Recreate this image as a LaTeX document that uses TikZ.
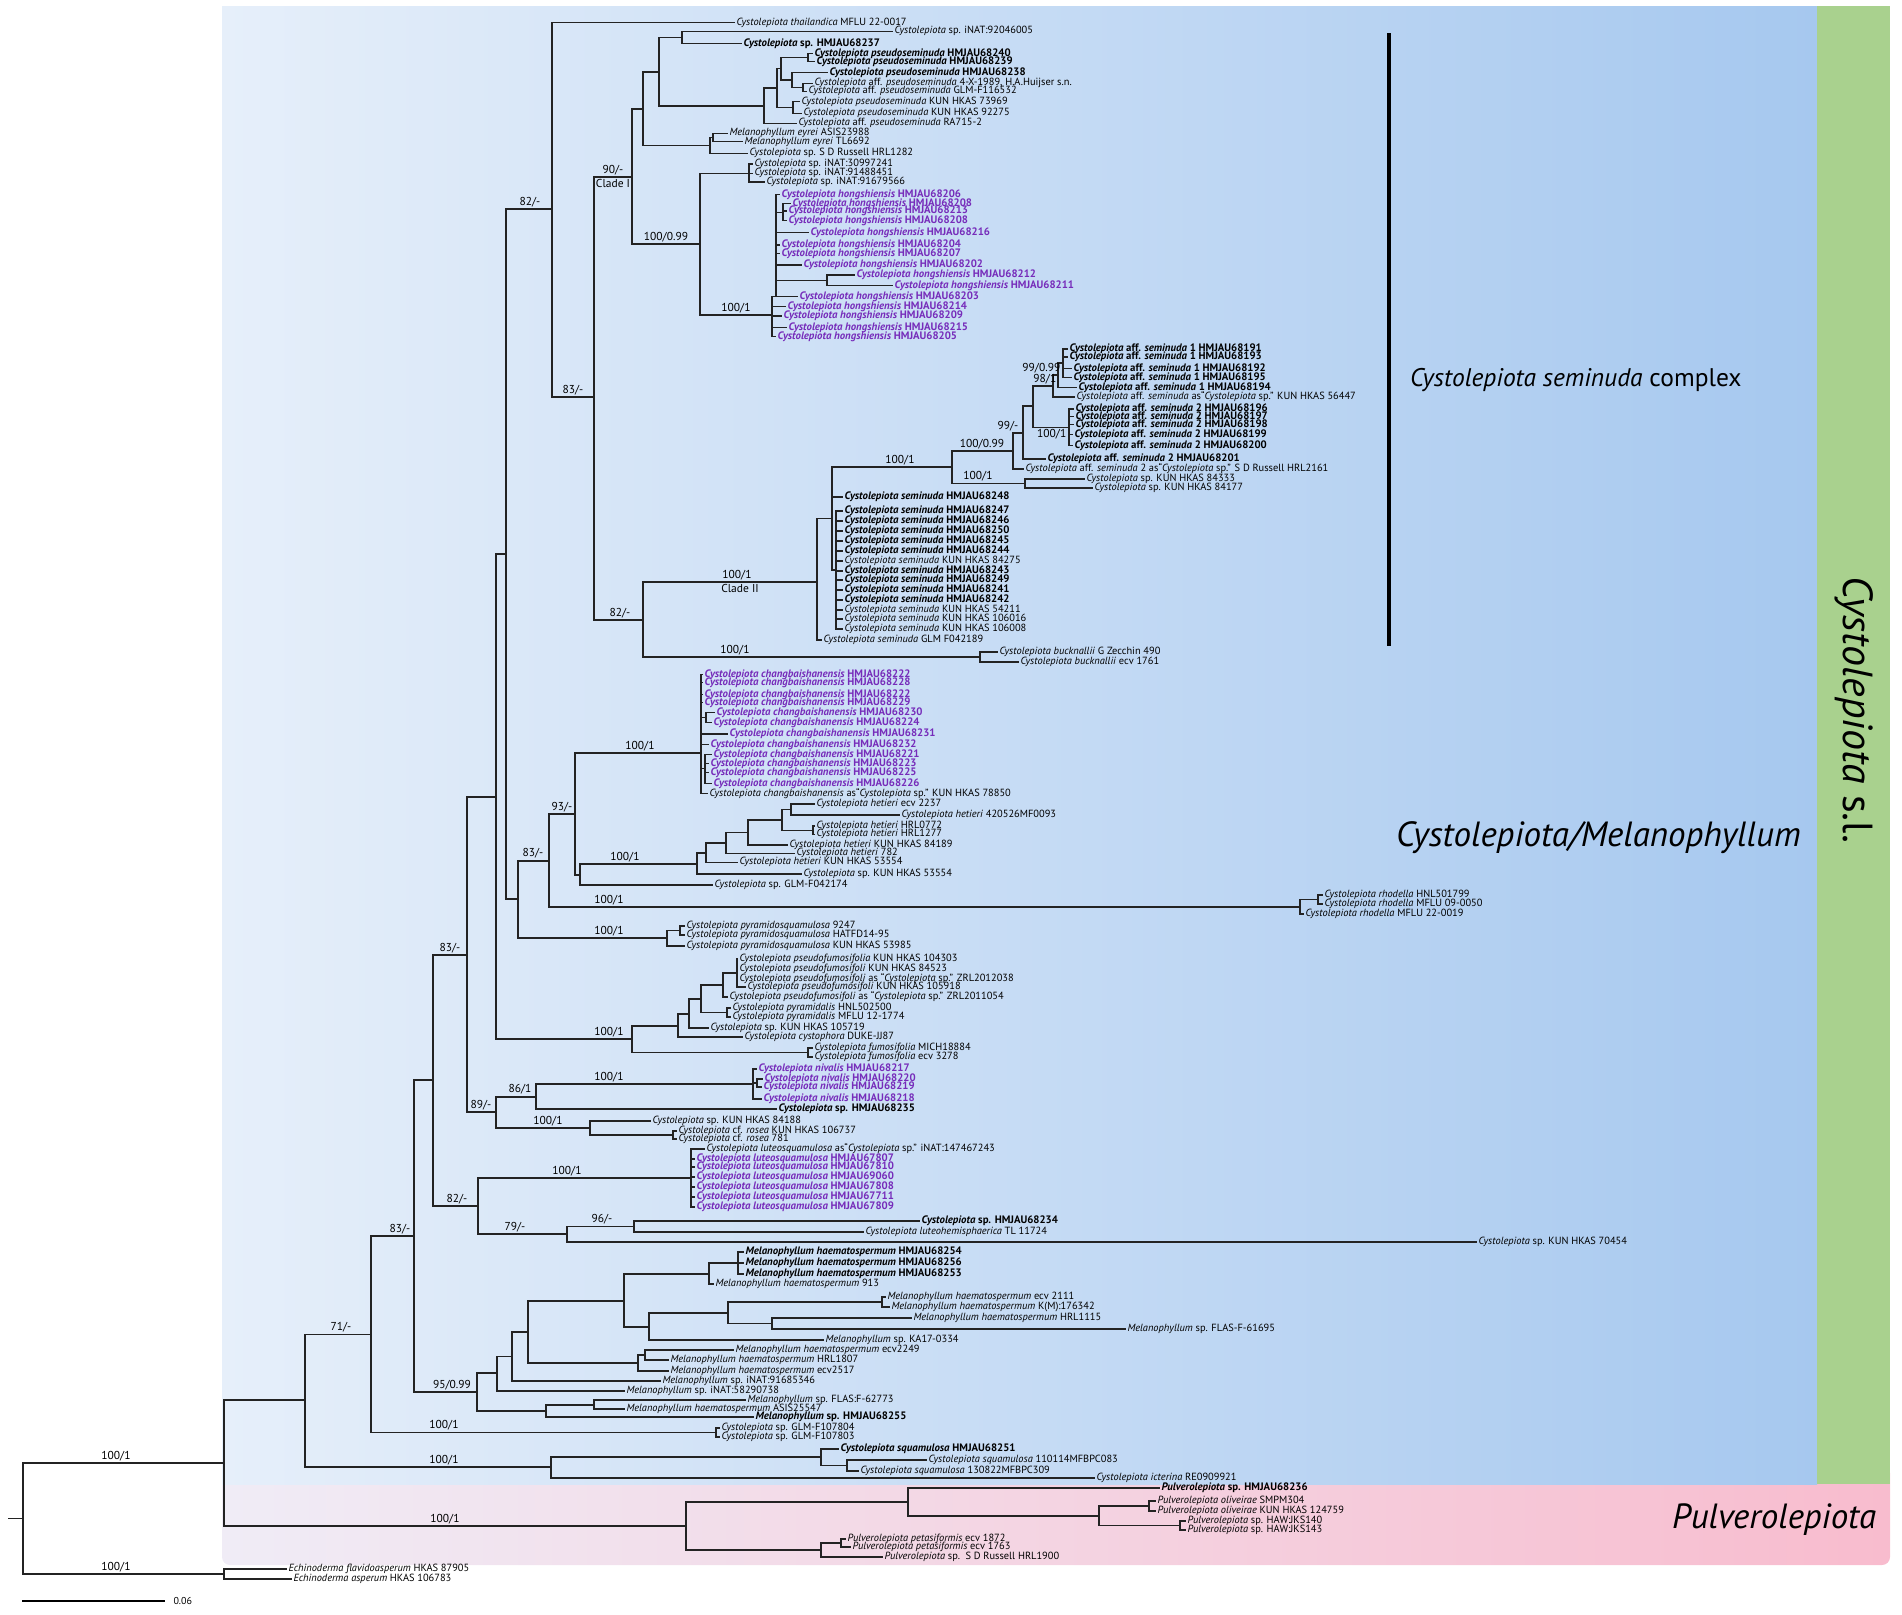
\documentclass[tikz,border=0pt]{standalone}
\usepackage{fontspec}
\setmainfont{PT Sans}
\usepackage{tikz}

\definecolor{hmpurple}{RGB}{118,44,186}
\definecolor{treeline}{RGB}{35,35,35}
\definecolor{boxlight}{RGB}{230,239,250}
\definecolor{boxdark}{RGB}{166,200,239}
\definecolor{slgreen}{RGB}{169,209,142}
\definecolor{pulvlight}{RGB}{240,236,246}
\definecolor{pulvdark}{RGB}{248,188,206}

\newcommand{\Cys}[1]{\textit{Cystolepiota #1}}
\newcommand{\Mel}[1]{\textit{Melanophyllum #1}}
\newcommand{\Pul}[1]{\textit{Pulverolepiota #1}}
\newcommand{\CS}{\textit{Cystolepiota}}
\newcommand{\MS}{\textit{Melanophyllum}}
\newcommand{\PS}{\textit{Pulverolepiota}}

\tikzset{
  leaf/.style={anchor=west, inner sep=0pt, outer sep=1.5pt, font=\fontsize{10.4}{10}\selectfont},
  bleaf/.style={leaf, font=\fontsize{10.8}{10}\selectfont\bfseries},
  pleaf/.style={bleaf, text=hmpurple},
  br/.style={draw=treeline, line width=1.1pt},
  bs/.style={anchor=south, inner sep=0.5pt, font=\fontsize{11.5}{11}\selectfont},
  bigtag/.style={anchor=west, inner sep=0pt}
}

\begin{document}
\begin{tikzpicture}[x=1pt, y=-1pt]
\useasboundingbox (0,0) rectangle (1902,1614);

% background boxes
\shade[left color=pulvlight, right color=pulvdark, rounded corners=8pt] (222,1465) rectangle (1890,1565);
\shade[left color=boxlight, right color=boxdark] (222,6) rectangle (1817,1484);
\fill[slgreen] (1817,6) rectangle (1890,1484);
\draw[line width=4pt] (1389,33) -- (1389,646);

% internal nodes
\foreach \n/\x/\y in {
 nT/552/209, n83/594/397, cl1/632/177, n643/643/109, n659/659/72, n682/682/37.3,
 n764/764/106, n777/777/88, n781/781/68.7, n808/808/57.5, n792/792/80, n803/803/87.3,
 n793/793/107.5, n710/710/145.5, n713/713/137.5, n700/700/244, n749/749/173.3,
 n772/772/315, n776/776/296.7, n783/783/212.2, n827/827/280.4,
 n82/643/620, nc2/817/582, ns10/832/518.5, nsemi/836/570, ns9/952/467, ns7/1013/451,
 ns6/1023/433, ns5/1033/406, ns3/1053/386, ns2/1058/375, ns1/1063/363, ns4/1069/427.3,
 ns8/1025/483.5, nbu/980/657,
 X/506/554, Y/518/899, n83b/549/861, n93/575/814, nchb/701/753, ncb1/706/717.5, ncb2/705/768.5,
 nhet0/580/875, nhg/697/864, nhe1/706/853, n726/726/843, n748/748/832.5, n782/782/820,
 n791/791/809.5, n813/813/830.2, nrh/1300/907, nrh1/1318/899.5, npy/667/938, npy1/680/930.5,
 Z/496/797, npf/632/1039, n678/678/1026, n689/689/1014, n701/701/999, n723/723/985,
 n737/737/973, n727/727/1012.5, nfu/808/1052.5,
 W/467/955, n89/496/1112, n86/536/1097, nni/753/1084, nni2/757/1083, nro/590/1128, nro2/673/1135,
 V/433/1080, n82b/478/1206, nlu/691/1178, n79/567/1234, n96/634/1226.5,
 N3/414/1236, n95/477/1392, Mj/497/1373, Mi/512/1356.5, Mmid/528/1332, Mtop/624/1301,
 Mh1/709/1274, n738/738/1263, Mka/649/1327, Mkl/728/1313, Mk/882/1302, Ml/772/1323.5,
 Me2/638/1363, Me/645/1355, Mg/546/1411, Mf/594/1405,
 N2/371/1334.5, nglm/716/1432.5, N1/305/1400, nsq0/551/1467, nsq/821/1457, nsqb/847/1465.5,
 nI/224/1463, npu/686/1526, npuU/908/1502, nolv/1099/1516, nolv1/1149/1506, njks/1180/1525.5,
 npuL/821/1550, npe/841/1543, nE/224/1574, nR/23/1518.5, stub/8/1518.5}
  \coordinate (\n) at (\x,\y);

% Clade I leaves
\node[leaf] (thai) at (735,22.7) {\Cys{thailandica} MFLU 22-0017};
\node[leaf] (in92) at (893,31.3) {\CS\ sp. iNAT:92046005};
\node[bleaf] (h237) at (742,43.3) {\CS\ sp. HMJAU68237};
\node[bleaf] (ps240) at (813,53.3) {\Cys{pseudoseminuda} HMJAU68240};
\node[bleaf] (ps239) at (815,61.7) {\Cys{pseudoseminuda} HMJAU68239};
\node[bleaf] (ps238) at (828,72.7) {\Cys{pseudoseminuda} HMJAU68238};
\node[leaf] (psx) at (813,83.3) {\CS\ aff. \textit{pseudoseminuda} 4-X-1989, H.A.Huijser s.n.};
\node[leaf] (psglm) at (807,91.3) {\CS\ aff. \textit{pseudoseminuda} GLM-F116532};
\node[leaf] (ps739) at (800,101.7) {\Cys{pseudoseminuda} KUN HKAS 73969};
\node[leaf] (ps922) at (802,113.3) {\Cys{pseudoseminuda} KUN HKAS 92275};
\node[leaf] (psra) at (797,123.3) {\CS\ aff. \textit{pseudoseminuda} RA715-2};
\node[leaf] (eyA) at (728,133.3) {\Mel{eyrei} ASIS23988};
\node[leaf] (eyT) at (743,141.7) {\Mel{eyrei} TL6692};
\node[leaf] (ru282) at (748,153.3) {\CS\ sp. S D Russell HRL1282};
\node[leaf] (in30) at (753,164) {\CS\ sp. iNAT:30997241};
\node[leaf] (in914) at (753,173.3) {\CS\ sp. iNAT:91488451};
\node[leaf] (in916) at (765,182) {\CS\ sp. iNAT:91679566};
\foreach \n/\x/\y/\v in {ho206/780/194.3/68206, ho208/791/203.7/68208, ho213/787/211/68213,
  ho208b/787/220.7/68208, ho216/809/232.7/68216, ho204/780/245/68204, ho207/780/253.3/68207,
  ho202/802/265/68202, ho212/855/275/68212, ho211/893/285.7/68211, ho203/798/296.7/68203,
  ho214/786/306.7/68214, ho209/782/316/68209, ho215/787/327.7/68215, ho205/776/336.7/68205}
  \node[pleaf] (\n) at (\x,\y) {\Cys{hongshiensis} HMJAU\v};

% seminuda complex leaves
\foreach \n/\x/\y/\v in {sa191/1068/349/68191, sa193/1068/357/68193, sa192/1072/368.3/68192,
  sa195/1072/377.7/68195, sa194/1077/387.7/68194}
  \node[bleaf] (\n) at (\x,\y) {\CS\ aff. \textit{seminuda} 1 HMJAU\v};
\node[leaf] (sa56447) at (1075,397) {\CS\ aff. \textit{seminuda} as“\CS\ sp.” KUN HKAS 56447};
\foreach \n/\x/\y/\v in {sb196/1074/409/68196, sb197/1074/416.3/68197, sb198/1074/424.3/68198,
  sb199/1073/434.3/68199, sb200/1073/445.7/68200, sb201/1046/459/68201}
  \node[bleaf] (\n) at (\x,\y) {\CS\ aff. \textit{seminuda} 2 HMJAU\v};
\node[leaf] (sb2161) at (1024,469) {\CS\ aff. \textit{seminuda} 2 as“\CS\ sp.” S D Russell HRL2161};
\node[leaf] (k84333) at (1085,479) {\CS\ sp. KUN HKAS 84333};
\node[leaf] (k84177) at (1093,488) {\CS\ sp. KUN HKAS 84177};
\foreach \n/\y/\v in {se248/497/68248, se247/511/68247, se246/521/68246, se250/531/68250,
  se245/541/68245, se244/551/68244, se243/571/68243, se249/580/68249, se241/590/68241, se242/600/68242}
  \node[bleaf] (\n) at (843,\y) {\Cys{seminuda} HMJAU\v};
\foreach \n/\y/\v in {se84275/561/84275, se54211/610/54211, se106016/619/106016, se106008/629/106008}
  \node[leaf] (\n) at (843,\y) {\Cys{seminuda} KUN HKAS \v};
\node[leaf] (seglm) at (822,640) {\Cys{seminuda} GLM F042189};
\node[leaf] (bu490) at (998,652) {\Cys{bucknallii} G Zecchin 490};
\node[leaf] (bu1761) at (1019,662) {\Cys{bucknallii} ecv 1761};

% changbaishanensis, hetieri, rhodella
\foreach \n/\x/\y/\v in {cb222/703/674.3/68222, cb228/703/682.3/68228, cb222b/703/694.3/68222,
  cb229/703/702.3/68229, cb230/715/712.7/68230, cb224/712/722.3/68224, cb231/728/734/68231,
  cb232/709/744.7/68232, cb221/712/754.3/68221, cb223/709/763.3/68223, cb225/709/772.7/68225,
  cb226/712/783.3/68226}
  \node[pleaf] (\n) at (\x,\y) {\Cys{changbaishanensis} HMJAU\v};
\node[leaf] (cb78850) at (708,793.3) {\Cys{changbaishanensis} as“\CS\ sp.” KUN HKAS 78850};
\node[leaf] (he2237) at (815,804) {\Cys{hetieri} ecv 2237};
\node[leaf] (he420) at (900,815) {\Cys{hetieri} 420526MF0093};
\node[leaf] (he0772) at (815,826) {\Cys{hetieri} HRL0772};
\node[leaf] (he1277) at (815,834.3) {\Cys{hetieri} HRL1277};
\node[leaf] (he84189) at (788,845) {\Cys{hetieri} KUN HKAS 84189};
\node[leaf] (he782) at (795,853.3) {\Cys{hetieri} 782};
\node[leaf] (he53554) at (738,862.3) {\Cys{hetieri} KUN HKAS 53554};
\node[leaf] (sp53554) at (802,874) {\CS\ sp. KUN HKAS 53554};
\node[leaf] (glm174) at (713,885) {\CS\ sp. GLM-F042174};
\node[leaf] (rh1799) at (1323,895) {\Cys{rhodella} HNL501799};
\node[leaf] (rh0050) at (1323,904) {\Cys{rhodella} MFLU 09-0050};
\node[leaf] (rh0019) at (1304,914) {\Cys{rhodella} MFLU 22-0019};

% pyramidosquamulosa to luteohemisphaerica
\node[leaf] (py9247) at (685,926) {\Cys{pyramidosquamulosa} 9247};
\node[leaf] (pyhat) at (685,935) {\Cys{pyramidosquamulosa} HATFD14-95};
\node[leaf] (py53985) at (685,946) {\Cys{pyramidosquamulosa} KUN HKAS 53985};
\node[leaf] (pf104303) at (738,959) {\Cys{pseudofumosifolia} KUN HKAS 104303};
\node[leaf] (pf84523) at (738,969) {\Cys{pseudofumosifoli} KUN HKAS 84523};
\node[leaf] (pfz2038) at (738,979) {\Cys{pseudofumosifoli} as “\CS\ sp.” ZRL2012038};
\node[leaf] (pf105918) at (746,987) {\Cys{pseudofumosifoli} KUN HKAS 105918};
\node[leaf] (pfz1054) at (728,997) {\Cys{pseudofumosifoli} as “\CS\ sp.” ZRL2011054};
\node[leaf] (pyrhnl) at (731,1008) {\Cys{pyramidalis} HNL502500};
\node[leaf] (pyrmf) at (731,1017) {\Cys{pyramidalis} MFLU 12-1774};
\node[leaf] (k105719) at (709,1028) {\CS\ sp. KUN HKAS 105719};
\node[leaf] (cyst) at (743,1037) {\Cys{cystophora} DUKE-JJ87};
\node[leaf] (fumich) at (813,1048) {\Cys{fumosifolia} MICH18884};
\node[leaf] (fu3278) at (813,1057) {\Cys{fumosifolia} ecv 3278};
\foreach \n/\x/\y/\v in {ni217/757/1069/68217, ni220/763/1079/68220, ni219/762/1087/68219, ni218/762/1099/68218}
  \node[pleaf] (\n) at (\x,\y) {\Cys{nivalis} HMJAU\v};
\node[bleaf] (h235) at (777,1109) {\CS\ sp. HMJAU68235};
\node[leaf] (k84188) at (651,1121) {\CS\ sp. KUN HKAS 84188};
\node[leaf] (ro106737) at (677,1131) {\CS\ cf. \textit{rosea} KUN HKAS 106737};
\node[leaf] (ro781) at (677,1139) {\CS\ cf. \textit{rosea} 781};
\node[leaf] (lu147) at (705,1149) {\Cys{luteosquamulosa} as“\CS\ sp.” iNAT:147467243};
\foreach \n/\y/\v in {lu807/1159/67807, lu810/1167/67810, lu060/1177/69060, lu808/1187/67808,
  lu711/1197/67711, lu809/1207/67809}
  \node[pleaf] (\n) at (695,\y) {\Cys{luteosquamulosa} HMJAU\v};
\node[bleaf] (h234) at (920,1221) {\CS\ sp. HMJAU68234};
\node[leaf] (luhem) at (864,1232) {\Cys{luteohemisphaerica} TL 11724};
\node[leaf] (k70454) at (1477,1242) {\CS\ sp. KUN HKAS 70454};

% Melanophyllum and basal lineages
\foreach \n/\y/\v in {mh254/1252/68254, mh256/1263/68256, mh253/1274/68253}
  \node[bleaf] (\n) at (744,\y) {\Mel{haematospermum} HMJAU\v};
\node[leaf] (mh913) at (714,1284) {\Mel{haematospermum} 913};
\node[leaf] (mh2111) at (886,1297) {\Mel{haematospermum} ecv 2111};
\node[leaf] (mhk) at (890,1307) {\Mel{haematospermum} K(M):176342};
\node[leaf] (mh1115) at (912,1318) {\Mel{haematospermum} HRL1115};
\node[leaf] (mfl695) at (1126,1329) {\MS\ sp. FLAS-F-61695};
\node[leaf] (mka) at (824,1340) {\MS\ sp. KA17-0334};
\node[leaf] (mh2249) at (734,1350) {\Mel{haematospermum} ecv2249};
\node[leaf] (mh1807) at (669,1360) {\Mel{haematospermum} HRL1807};
\node[leaf] (mh2517) at (669,1371) {\Mel{haematospermum} ecv2517};
\node[leaf] (mi916) at (661,1381) {\MS\ sp. iNAT:91685346};
\node[leaf] (mi582) at (625,1391) {\MS\ sp. iNAT:58290738};
\node[leaf] (mfl773) at (746,1400) {\MS\ sp. FLAS:F-62773};
\node[leaf] (mhasis) at (625,1409) {\Mel{haematospermum} ASIS25547};
\node[bleaf] (m255) at (754,1417) {\MS\ sp. HMJAU68255};
\node[leaf] (glm804) at (720,1428) {\CS\ sp. GLM-F107804};
\node[leaf] (glm803) at (720,1437) {\CS\ sp. GLM-F107803};
\node[bleaf] (sq251) at (839,1449) {\Cys{squamulosa} HMJAU68251};
\node[leaf] (sq083) at (927,1460) {\Cys{squamulosa} 110114MFBPC083};
\node[leaf] (sq309) at (859,1471) {\Cys{squamulosa} 130822MFBPC309};
\node[leaf] (ict) at (1095,1478) {\Cys{icterina} RE0909921};
\node[bleaf] (pu236) at (1160,1488) {\PS\ sp. HMJAU68236};
\node[leaf] (pusmpm) at (1156,1501) {\Pul{oliveirae} SMPM304};
\node[leaf] (puk) at (1156,1511) {\Pul{oliveirae} KUN HKAS 124759};
\node[leaf] (pu140) at (1186,1521) {\PS\ sp. HAW:JKS140};
\node[leaf] (pu143) at (1186,1530) {\PS\ sp. HAW:JKS143};
\node[leaf] (pe1872) at (846,1539) {\Pul{petasiformis} ecv 1872};
\node[leaf] (pe1763) at (851,1547) {\Pul{petasiformis} ecv 1763};
\node[leaf] (pu1900) at (883,1557) {\PS\ sp.\ \ S D Russell HRL1900};
\node[leaf] (ech1) at (287,1569) {\textit{Echinoderma flavidoasperum} HKAS 87905};
\node[leaf] (ech2) at (292,1579) {\textit{Echinoderma asperum} HKAS 106783};

% branches: Clade I
\draw[br] (nT) |- (thai.west);
\draw[br] (nT) |- (n83);
\draw[br] (n83) |- (cl1);
\draw[br] (n83) |- (n82);
\draw[br] (cl1) |- (n643); \draw[br] (cl1) |- (n700);
\draw[br] (n643) |- (n659); \draw[br] (n643) |- (n710);
\draw[br] (n659) |- (n682); \draw[br] (n659) |- (n764);
\foreach \c in {in92,h237} \draw[br] (n682) |- (\c.west);
\draw[br] (n764) |- (n777); \draw[br] (n764) |- (psra.west);
\draw[br] (n777) |- (n781); \draw[br] (n777) |- (n793);
\draw[br] (n781) |- (n808); \draw[br] (n781) |- (n792);
\foreach \c in {ps240,ps239} \draw[br] (n808) |- (\c.west);
\draw[br] (n792) |- (ps238.west); \draw[br] (n792) |- (n803);
\foreach \c in {psx,psglm} \draw[br] (n803) |- (\c.west);
\foreach \c in {ps739,ps922} \draw[br] (n793) |- (\c.west);
\draw[br] (n710) |- (n713); \draw[br] (n710) |- (ru282.west);
\foreach \c in {eyA,eyT} \draw[br] (n713) |- (\c.west);
\draw[br] (n700) |- (n749); \draw[br] (n700) |- (n772);
\foreach \c in {in30,in914,in916} \draw[br] (n749) |- (\c.west);
\draw[br] (n772) |- (n776);
\foreach \c in {ho214,ho209,ho215,ho205} \draw[br] (n772) |- (\c.west);
\foreach \c in {ho206,ho216,ho204,ho207,ho202,ho203} \draw[br] (n776) |- (\c.west);
\draw[br] (n776) |- (n783); \draw[br] (n776) |- (n827);
\foreach \c in {ho208,ho213,ho208b} \draw[br] (n783) |- (\c.west);
\foreach \c in {ho212,ho211} \draw[br] (n827) |- (\c.west);

% branches: Clade II
\draw[br] (n82) |- (nc2); \draw[br] (n82) |- (nbu);
\foreach \c in {bu490,bu1761} \draw[br] (nbu) |- (\c.west);
\draw[br] (nc2) |- (ns10); \draw[br] (nc2) |- (seglm.west);
\draw[br] (ns10) |- (ns9); \draw[br] (ns10) |- (se248.west); \draw[br] (ns10) |- (nsemi);
\foreach \c in {se247,se246,se250,se245,se244,se84275,se243,se249,se241,se242,se54211,se106016,se106008}
  \draw[br] (nsemi) |- (\c.west);
\draw[br] (ns9) |- (ns7); \draw[br] (ns9) |- (ns8);
\foreach \c in {k84333,k84177} \draw[br] (ns8) |- (\c.west);
\draw[br] (ns7) |- (ns6); \draw[br] (ns7) |- (sb2161.west);
\draw[br] (ns6) |- (ns5); \draw[br] (ns6) |- (sb201.west);
\draw[br] (ns5) |- (ns3); \draw[br] (ns5) |- (ns4);
\draw[br] (ns3) |- (ns2); \draw[br] (ns3) |- (sa56447.west);
\draw[br] (ns2) |- (ns1); \draw[br] (ns2) |- (sa194.west);
\foreach \c in {sa191,sa193,sa192,sa195} \draw[br] (ns1) |- (\c.west);
\foreach \c in {sb196,sb197,sb198,sb199,sb200} \draw[br] (ns4) |- (\c.west);

% branches: middle part
\draw[br] (X) |- (nT); \draw[br] (X) |- (Y);
\draw[br] (Y) |- (n83b); \draw[br] (Y) |- (npy);
\draw[br] (n83b) |- (n93); \draw[br] (n83b) |- (nrh);
\draw[br] (n93) |- (nchb); \draw[br] (n93) |- (nhet0);
\foreach \c in {cb222,cb228,cb222b,cb229,cb231,cb232,cb78850} \draw[br] (nchb) |- (\c.west);
\draw[br] (nchb) |- (ncb1); \draw[br] (nchb) |- (ncb2);
\foreach \c in {cb230,cb224} \draw[br] (ncb1) |- (\c.west);
\foreach \c in {cb221,cb223,cb225,cb226} \draw[br] (ncb2) |- (\c.west);
\draw[br] (nhet0) |- (nhg); \draw[br] (nhet0) |- (glm174.west);
\draw[br] (nhg) |- (nhe1); \draw[br] (nhg) |- (sp53554.west);
\draw[br] (nhe1) |- (n726); \draw[br] (nhe1) |- (he53554.west);
\draw[br] (n726) |- (n748); \draw[br] (n726) |- (he782.west);
\draw[br] (n748) |- (n782); \draw[br] (n748) |- (he84189.west);
\draw[br] (n782) |- (n791); \draw[br] (n782) |- (n813);
\foreach \c in {he2237,he420} \draw[br] (n791) |- (\c.west);
\foreach \c in {he0772,he1277} \draw[br] (n813) |- (\c.west);
\draw[br] (nrh) |- (nrh1); \draw[br] (nrh) |- (rh0019.west);
\foreach \c in {rh1799,rh0050} \draw[br] (nrh1) |- (\c.west);
\draw[br] (npy) |- (npy1); \draw[br] (npy) |- (py53985.west);
\foreach \c in {py9247,pyhat} \draw[br] (npy1) |- (\c.west);
\draw[br] (Z) |- (X); \draw[br] (Z) |- (npf);
\draw[br] (npf) |- (n678); \draw[br] (npf) |- (nfu);
\draw[br] (n678) |- (n689); \draw[br] (n678) |- (cyst.west);
\draw[br] (n689) |- (n701); \draw[br] (n689) |- (k105719.west);
\draw[br] (n701) |- (n723); \draw[br] (n701) |- (n727);
\draw[br] (n723) |- (n737); \draw[br] (n723) |- (pfz1054.west);
\foreach \c in {pf104303,pf84523,pfz2038,pf105918} \draw[br] (n737) |- (\c.west);
\foreach \c in {pyrhnl,pyrmf} \draw[br] (n727) |- (\c.west);
\foreach \c in {fumich,fu3278} \draw[br] (nfu) |- (\c.west);
\draw[br] (W) |- (Z); \draw[br] (W) |- (n89);
\draw[br] (n89) |- (n86); \draw[br] (n89) |- (nro);
\draw[br] (n86) |- (nni); \draw[br] (n86) |- (h235.west);
\draw[br] (nni) |- (ni217.west); \draw[br] (nni) |- (nni2); \draw[br] (nni) |- (ni218.west);
\foreach \c in {ni220,ni219} \draw[br] (nni2) |- (\c.west);
\draw[br] (nro) |- (k84188.west); \draw[br] (nro) |- (nro2);
\foreach \c in {ro106737,ro781} \draw[br] (nro2) |- (\c.west);
\draw[br] (V) |- (W); \draw[br] (V) |- (n82b);
\draw[br] (n82b) |- (nlu); \draw[br] (n82b) |- (n79);
\foreach \c in {lu147,lu807,lu810,lu060,lu808,lu711,lu809} \draw[br] (nlu) |- (\c.west);
\draw[br] (n79) |- (n96); \draw[br] (n79) |- (k70454.west);
\foreach \c in {h234,luhem} \draw[br] (n96) |- (\c.west);

% branches: Melanophyllum, squamulosa, Pulverolepiota, outgroup
\draw[br] (N3) |- (V); \draw[br] (N3) |- (n95);
\draw[br] (n95) |- (Mj); \draw[br] (n95) |- (Mg);
\draw[br] (Mj) |- (Mi); \draw[br] (Mj) |- (mi582.west);
\draw[br] (Mi) |- (Mmid); \draw[br] (Mi) |- (mi916.west);
\draw[br] (Mmid) |- (Mtop); \draw[br] (Mmid) |- (Me2);
\draw[br] (Mtop) |- (Mh1); \draw[br] (Mtop) |- (Mka);
\draw[br] (Mh1) |- (n738); \draw[br] (Mh1) |- (mh913.west);
\foreach \c in {mh254,mh256,mh253} \draw[br] (n738) |- (\c.west);
\draw[br] (Mka) |- (Mkl); \draw[br] (Mka) |- (mka.west);
\draw[br] (Mkl) |- (Mk); \draw[br] (Mkl) |- (Ml);
\foreach \c in {mh2111,mhk} \draw[br] (Mk) |- (\c.west);
\foreach \c in {mh1115,mfl695} \draw[br] (Ml) |- (\c.west);
\draw[br] (Me2) |- (Me); \draw[br] (Me2) |- (mh2517.west);
\foreach \c in {mh2249,mh1807} \draw[br] (Me) |- (\c.west);
\draw[br] (Mg) |- (Mf); \draw[br] (Mg) |- (m255.west);
\foreach \c in {mfl773,mhasis} \draw[br] (Mf) |- (\c.west);
\draw[br] (N2) |- (N3); \draw[br] (N2) |- (nglm);
\foreach \c in {glm804,glm803} \draw[br] (nglm) |- (\c.west);
\draw[br] (N1) |- (N2); \draw[br] (N1) |- (nsq0);
\draw[br] (nsq0) |- (nsq); \draw[br] (nsq0) |- (ict.west);
\draw[br] (nsq) |- (sq251.west); \draw[br] (nsq) |- (nsqb);
\foreach \c in {sq083,sq309} \draw[br] (nsqb) |- (\c.west);
\draw[br] (nI) |- (N1); \draw[br] (nI) |- (npu);
\draw[br] (npu) |- (npuU); \draw[br] (npu) |- (npuL);
\draw[br] (npuU) |- (pu236.west); \draw[br] (npuU) |- (nolv);
\draw[br] (nolv) |- (nolv1); \draw[br] (nolv) |- (njks);
\foreach \c in {pusmpm,puk} \draw[br] (nolv1) |- (\c.west);
\foreach \c in {pu140,pu143} \draw[br] (njks) |- (\c.west);
\draw[br] (npuL) |- (npe); \draw[br] (npuL) |- (pu1900.west);
\foreach \c in {pe1872,pe1763} \draw[br] (npe) |- (\c.west);
\draw[br] (nR) |- (nI); \draw[br] (nR) |- (nE);
\foreach \c in {ech1,ech2} \draw[br] (nE) |- (\c.west);
\draw[br] (stub) -- (nR);

% support values
\foreach \ba/\bb/\x/\y [count=\i] in {82/-/530/208, 83/-/573/396, 90/-/613/176, 100/0.99/666/243,
  100/1/736/314, 100/0.99/982/450, 100/1/978/482, 100/1/900/466, 100/1/737/581, 82/-/620/619,
  100/1/735/656, 100/1/640/752, 93/-/562/813, 100/1/625/863, 83/-/533/859, 100/1/609/906,
  100/1/609/937, 100/1/609/1038, 83/-/450/954, 89/-/481/1111, 86/1/520/1095, 100/1/609/1083,
  100/1/548/1127, 82/-/457/1205, 100/1/567/1177, 79/-/515/1233, 96/-/602/1225, 83/-/400/1235,
  71/-/341/1333, 95/0.99/452/1391, 100/1/444/1431, 100/1/444/1466, 100/1/445/1525,
  100/1/116/1462, 100/1/116/1573}
  \node[bs] (bs\i) at (\x,\y) {\ba/\bb};
\node[bs, anchor=east] (bs99a) at (1061,368) {99/0.99};
\node[bs, anchor=east] (bs98) at (1057,379) {98/1};
\node[bs, anchor=east] (bs100s) at (1067,434) {100/1};
\node[bs, anchor=south east] (bs99b) at (1019,432) {99/-};
\node[bs, anchor=north] (cladeI) at (613,179) {Clade I};
\node[bs, anchor=north] (cladeII) at (740,584) {Clade II};

% group names
\node[bigtag, font=\fontsize{25.5}{25}\selectfont] (semtag) at (1410,380) {\textit{Cystolepiota seminuda} complex};
\node[bigtag, font=\fontsize{35}{35}\selectfont] (cmtag) at (1396,838) {\textit{Cystolepiota/Melanophyllum}};
\node[bigtag, font=\fontsize{35}{35}\selectfont] (putag) at (1672,1520) {\textit{Pulverolepiota}};
\node[rotate=-90, font=\fontsize{42}{42}\selectfont] (sltag) at (1854,710) {\textit{Cystolepiota} s.l.};

% scale bar
\coordinate (sb0) at (22,1601);
\coordinate (sb1) at (165,1601);
\draw[line width=2.5pt] (sb0) -- (sb1);
\node[anchor=west, font=\fontsize{10}{10}\selectfont] (sbtag) at (170,1601) {0.06};
\end{tikzpicture}
\end{document}
